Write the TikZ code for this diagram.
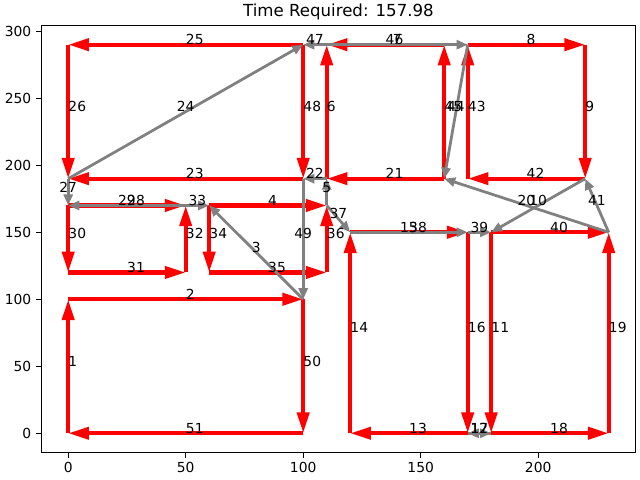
\documentclass[tikz,border=0pt]{standalone}
\usepackage{fontspec}
\setmainfont{DejaVu Sans}
\usepackage{tikz}
\usetikzlibrary{arrows.meta}

% required (red) and deadhead (gray) edges: from/to/order
\newcommand\reqedges{n0-0/n0-100/1, n0-100/n100-100/2, n60-170/n110-170/4,
  n110-190/n110-290/6, n170-290/n220-290/8, n220-290/n220-190/9,
  n180-150/n180-0/11, n170-0/n120-0/13, n120-0/n120-150/14,
  n170-150/n170-0/16, n180-0/n230-0/18, n230-0/n230-150/19,
  n160-190/n110-190/21, n100-190/n0-190/23, n100-290/n0-290/25,
  n0-290/n0-190/26, n0-170/n50-170/28, n0-170/n0-120/30,
  n0-120/n50-120/31, n50-120/n50-170/32, n60-170/n60-120/34,
  n60-120/n110-120/35, n110-120/n110-170/36, n120-150/n170-150/38,
  n180-150/n230-150/40, n220-190/n170-190/42, n170-190/n170-290/43,
  n160-190/n160-290/45, n160-290/n110-290/46, n100-290/n100-190/48,
  n100-100/n100-0/50, n100-0/n0-0/51}
\newcommand\deadedges{n100-100/n60-170/3, n110-170/n110-190/5,
  n110-290/n170-290/7, n220-190/n180-150/10, n180-0/n170-0/12,
  n120-150/n170-150/15, n170-0/n180-0/17, n230-150/n160-190/20,
  n110-190/n100-190/22, n0-190/n100-290/24, n0-190/n0-170/27,
  n50-170/n0-170/29, n50-170/n60-170/33, n110-170/n120-150/37,
  n170-150/n180-150/39, n230-150/n220-190/41, n170-290/n160-190/44,
  n110-290/n100-290/47, n100-190/n100-100/49}

\begin{document}
\begin{tikzpicture}[x=0.0235in, y=0.0134in, font=\fontsize{10}{12}\selectfont,
  req/.style={draw=red, line width=3pt, -{Triangle[length=15pt,width=8.6pt]}},
  dead/.style={draw=gray, line width=2pt, -{Triangle[length=8pt,width=6.5pt]}},
  rlab/.style={anchor=base west, inner sep=0pt},
  dlab/.style={anchor=base, inner sep=0pt},
  tickmark/.style={line width=0.8pt}]
  \useasboundingbox (-29.02,-34.85) rectangle (243.32,323.36);

  % axes
  \draw[line width=0.8pt] (-11.5,-14.5) rectangle (241.5,304.5);
  \foreach \x in {0,50,...,200} {
    \draw[tickmark] (\x,-14.5) -- ++(0,-3.5pt);
    \node[anchor=north, inner sep=0pt] (xt\x) at ([yshift=-7pt]\x,-14.5) {\x};
  }
  \foreach \y in {0,50,...,300} {
    \draw[tickmark] (-11.5,\y) -- ++(-3.5pt,0);
    \node[anchor=east, inner sep=0pt] (yt\y) at ([xshift=-7pt]-11.5,\y) {\y};
  }
  \node[anchor=base, font=\fontsize{12}{14}\selectfont] (title)
    at ([yshift=6pt]115,304.5) {Time Required: 157.98};

  % street corners
  \foreach \x/\y in {0/0,0/100,100/100,100/0,0/120,50/120,0/170,50/170,
      60/170,60/120,110/120,110/170,0/190,100/190,110/190,0/290,100/290,
      110/290,160/290,160/190,170/290,170/190,220/290,220/190,120/0,
      120/150,170/150,170/0,180/0,180/150,230/150,230/0}
    \coordinate (n\x-\y) at (\x,\y);

  % route
  \foreach \a/\b/\k in \reqedges
    \draw[req] (\a) -- (\b);
  \foreach \a/\b/\k in \deadedges
    \draw[dead] (\a) -- (\b);

  % order of traversal
  \foreach \a/\b/\k in \reqedges
    \path (\a) -- node[rlab] (r\k) {\k} (\b);
  \foreach \a/\b/\k in \deadedges
    \path (\a) -- node[dlab] (d\k) {\k} (\b);
\end{tikzpicture}
\end{document}
